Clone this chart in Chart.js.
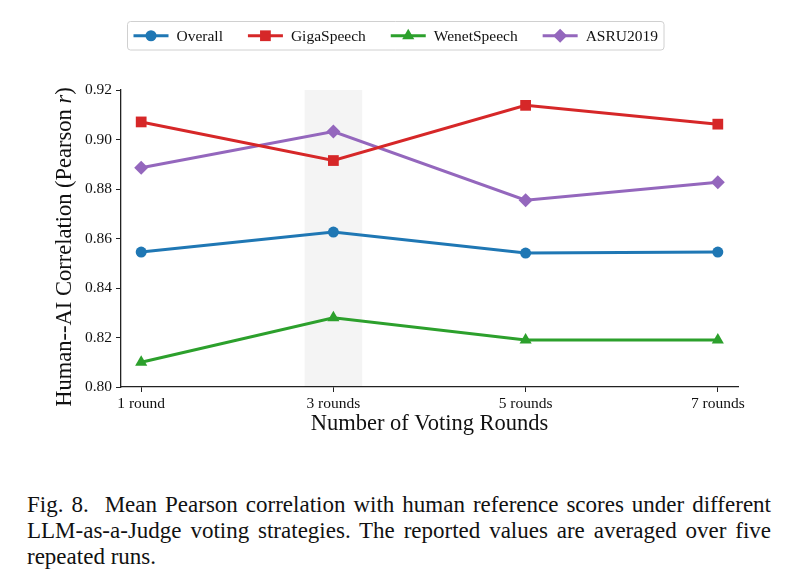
<!DOCTYPE html>
<html>
<head>
<meta charset="utf-8">
<script src="https://cdn.jsdelivr.net/npm/chart.js@4.4.1/dist/chart.umd.min.js"></script>
<style>
  html, body { margin: 0; padding: 0; background: #fff; }
  #wrap { position: relative; width: 785px; height: 588px; overflow: hidden; }
  #chart { position: absolute; left: 0; top: 0; }
  .cap {
    position: absolute; left: 27px; width: 744px;
    font-family: "Liberation Serif", "DejaVu Serif", serif;
    font-size: 23px; line-height: 26px; color: #111; white-space: nowrap;
  }
  .cap.j { text-align: justify; text-align-last: justify; white-space: normal; }
</style>
</head>
<body>
<div id="wrap">
  <canvas id="chart" width="785" height="450"></canvas>
  <div class="cap j" style="top:492px">Fig. 8.&nbsp; Mean Pearson correlation with human reference scores under different</div>
  <div class="cap j" style="top:518px">LLM-as-a-Judge voting strategies. The reported values are averaged over five</div>
  <div class="cap" style="top:544px">repeated runs.</div>
</div>

<script>
/* ---- data ---- */
const rounds      = [1, 3, 5, 7];
const roundLabels = ['1 round', '3 rounds', '5 rounds', '7 rounds'];
const yTicks      = [0.80, 0.82, 0.84, 0.86, 0.88, 0.90, 0.92];

const overall     = [0.8545, 0.8626, 0.8541, 0.8545];
const gigaSpeech  = [0.9071, 0.8915, 0.9138, 0.9062];
const wenetSpeech = [0.8100, 0.8280, 0.8190, 0.8190];
const asru2019    = [0.8886, 0.9032, 0.8755, 0.8827];

const highlight   = [2.7, 3.3];   // shaded span around 3 rounds

const SERIF = '"Liberation Serif", "DejaVu Serif", serif';

function series(label, vals, color, style, r) {
  return {
    label,
    data: rounds.map((x, i) => ({ x, y: vals[i] })),
    borderColor: color,
    backgroundColor: color,
    borderWidth: 3,
    pointStyle: style,
    pointRadius: r,
    pointHoverRadius: r,
    pointBorderWidth: 0,
    tension: 0
  };
}

/* shaded vertical band */
const bandPlugin = {
  id: 'band',
  beforeDatasetsDraw(chart) {
    const { ctx, chartArea, scales } = chart;
    const x0 = scales.x.getPixelForValue(highlight[0]);
    const x1 = scales.x.getPixelForValue(highlight[1]);
    ctx.save();
    ctx.fillStyle = 'rgba(0,0,0,0.045)';
    ctx.fillRect(x0, chartArea.top, x1 - x0, chartArea.bottom - chartArea.top);
    ctx.restore();
  }
};

function drawMarker(ctx, style, x, y, r) {
  ctx.beginPath();
  if (style === 'circle') {
    ctx.arc(x, y, r, 0, Math.PI * 2);
  } else if (style === 'rect') {
    const s = Math.SQRT1_2 * r;
    ctx.rect(x - s, y - s, 2 * s, 2 * s);
  } else if (style === 'triangle') {
    ctx.moveTo(x, y - r);
    ctx.lineTo(x + r * 0.866, y + r * 0.5);
    ctx.lineTo(x - r * 0.866, y + r * 0.5);
    ctx.closePath();
  } else if (style === 'rectRot') {
    ctx.moveTo(x, y - r); ctx.lineTo(x + r, y);
    ctx.lineTo(x, y + r); ctx.lineTo(x - r, y);
    ctx.closePath();
  }
  ctx.fill();
}

/* matplotlib-like legend box + y title with italic r */
const decorPlugin = {
  id: 'decor',
  afterDraw(chart) {
    const ctx = chart.ctx;
    const sets = chart.data.datasets;

    // legend
    const boxX = 127.5, boxY = 21.5, boxW = 536.5, boxH = 28.5;
    const pad = 6, handle = 35, gapText = 8;
    ctx.save();
    ctx.font = '15.5px ' + SERIF;
    const widths = sets.map(d => ctx.measureText(d.label).width);
    const used = 2 * pad + widths.reduce((a, w) => a + handle + gapText + w, 0);
    const gapItem = (boxW - used) / (sets.length - 1);

    ctx.fillStyle = 'rgba(255,255,255,0.9)';
    ctx.strokeStyle = '#d0d0d0';
    ctx.lineWidth = 1;
    ctx.beginPath();
    ctx.roundRect(boxX, boxY, boxW, boxH, 3);
    ctx.fill(); ctx.stroke();

    let x = boxX + pad;
    const cy = boxY + boxH / 2;
    sets.forEach((d, i) => {
      ctx.strokeStyle = d.borderColor;
      ctx.lineWidth = d.borderWidth;
      ctx.beginPath();
      ctx.moveTo(x, cy); ctx.lineTo(x + handle, cy);
      ctx.stroke();
      ctx.fillStyle = d.backgroundColor;
      drawMarker(ctx, d.pointStyle, x + handle / 2, cy, d.pointRadius);
      ctx.fillStyle = '#111';
      ctx.textBaseline = 'middle';
      ctx.textAlign = 'left';
      ctx.fillText(d.label, x + handle + gapText, cy + 1);
      x += handle + gapText + widths[i] + gapItem;
    });

    // y-axis title
    const t1 = 'Human--AI Correlation (Pearson ', t2 = 'r', t3 = ')';
    ctx.font = '22.5px ' + SERIF;
    const w1 = ctx.measureText(t1).width, w3 = ctx.measureText(t3).width;
    ctx.font = 'italic 22.5px ' + SERIF;
    const w2 = ctx.measureText(t2).width;
    const total = w1 + w2 + w3;
    ctx.translate(65, 247);
    ctx.rotate(-Math.PI / 2);
    ctx.fillStyle = '#111';
    ctx.textBaseline = 'middle';
    ctx.textAlign = 'left';
    let tx = -total / 2;
    ctx.font = '22.5px ' + SERIF;
    ctx.fillText(t1, tx, 0); tx += w1;
    ctx.font = 'italic 22.5px ' + SERIF;
    ctx.fillText(t2, tx, 0); tx += w2;
    ctx.font = '22.5px ' + SERIF;
    ctx.fillText(t3, tx, 0);
    ctx.restore();
  }
};

new Chart(document.getElementById('chart'), {
  type: 'line',
  data: {
    datasets: [
      series('Overall',     overall,     '#1f77b4', 'circle',   5.5),
      series('GigaSpeech',  gigaSpeech,  '#d62728', 'rect',     7.6),
      series('WenetSpeech', wenetSpeech, '#2ca02c', 'triangle', 7),
      series('ASRU2019',    asru2019,    '#9467bd', 'rectRot',  7)
    ]
  },
  options: {
    responsive: false,
    animation: false,
    devicePixelRatio: 1,
    layout: { padding: { top: 90, right: 47, left: 0, bottom: 0 } },
    plugins: { legend: { display: false }, tooltip: { enabled: false } },
    scales: {
      x: {
        type: 'linear',
        min: 0.79, max: 7.21,
        afterFit: s => { s.height = 63; },
        afterBuildTicks: s => { s.ticks = rounds.map(v => ({ value: v })); },
        grid: { drawOnChartArea: false, drawTicks: true, tickLength: 5, color: '#222' },
        border: { display: true, color: '#222', width: 1.3 },
        ticks: {
          color: '#111', padding: 3, autoSkip: false, maxRotation: 0,
          font: { family: SERIF, size: 15.5 },
          callback: v => roundLabels[rounds.indexOf(v)]
        },
        title: {
          display: true, text: 'Number of Voting Rounds', color: '#111',
          font: { family: SERIF, size: 22.5 }, padding: { top: 0, bottom: 12 }
        }
      },
      y: {
        min: 0.80, max: 0.92,
        afterFit: s => { s.width = 121; },
        afterBuildTicks: s => { s.ticks = yTicks.map(v => ({ value: v })); },
        grid: { drawOnChartArea: false, drawTicks: true, tickLength: 5, color: '#222' },
        border: { display: true, color: '#222', width: 1.3 },
        ticks: {
          color: '#111', padding: 4,
          font: { family: SERIF, size: 15.5 },
          callback: v => v.toFixed(2)
        }
      }
    }
  },
  plugins: [bandPlugin, decorPlugin]
});
</script>
</body>
</html>
